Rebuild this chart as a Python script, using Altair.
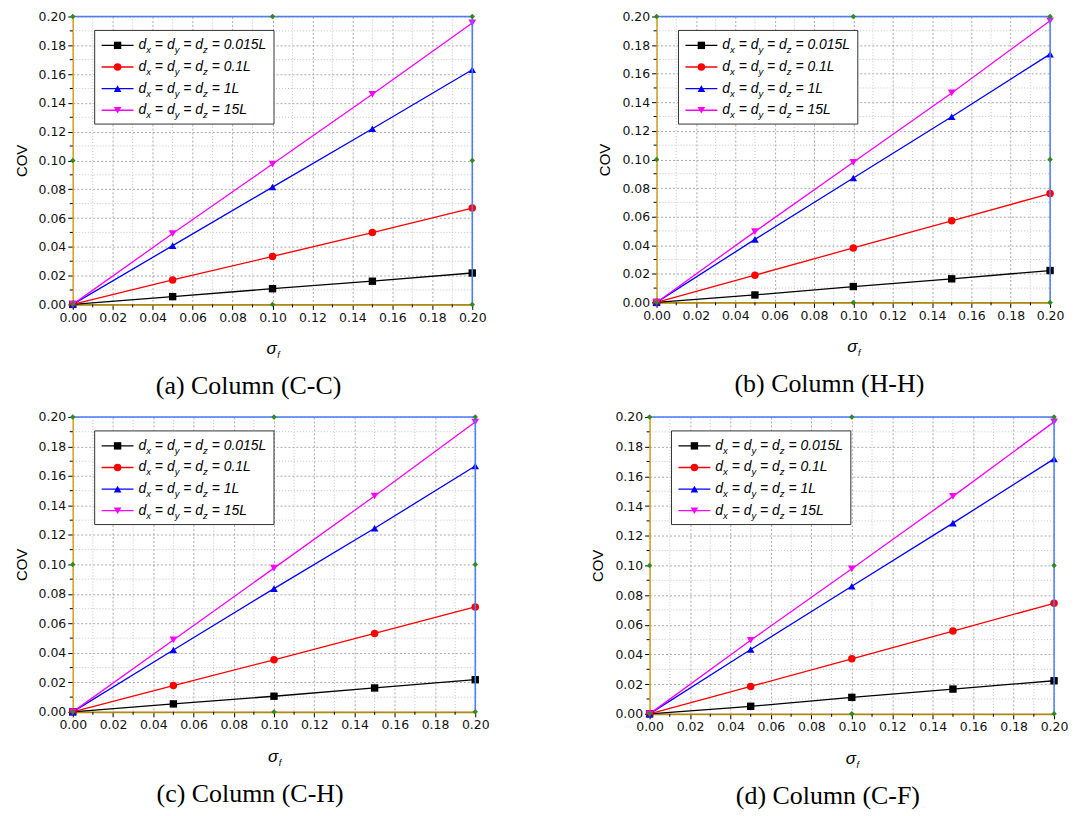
import altair as alt
import pandas as pd

# ---------------- data ----------------
SIGMA = [0.00, 0.05, 0.10, 0.15, 0.20]
SERIES = ["0.015L", "0.1L", "1L", "15L"]
COLORS = ["#000000", "#ff0000", "#0000ff", "#ff00ff"]
SHAPES = ["square", "circle", "triangle-up", "triangle-down"]

A_0015 = [0, 0.0054, 0.0109, 0.0161, 0.0218]
A_01 = [0, 0.0170, 0.0333, 0.0499, 0.0669]
A_1 = [0, 0.0408, 0.0815, 0.1220, 0.1630]
A_15 = [0, 0.0492, 0.0975, 0.1460, 0.1955]

B_0015 = [0, 0.0052, 0.0111, 0.0165, 0.0223]
B_01 = [0, 0.0190, 0.0381, 0.0571, 0.0761]
B_1 = [0, 0.0441, 0.0870, 0.1299, 0.1737]
B_15 = [0, 0.0495, 0.0980, 0.1465, 0.1970]

C_0015 = [0, 0.0054, 0.0106, 0.0162, 0.0218]
C_01 = [0, 0.0178, 0.0353, 0.0532, 0.0712]
C_1 = [0, 0.0420, 0.0836, 0.1245, 0.1667]
C_15 = [0, 0.0488, 0.0975, 0.1464, 0.1966]

D_0015 = [0, 0.0051, 0.0111, 0.0167, 0.0223]
D_01 = [0, 0.0185, 0.0371, 0.0558, 0.0745]
D_1 = [0, 0.0433, 0.0860, 0.1285, 0.1718]
D_15 = [0, 0.0496, 0.0977, 0.1465, 0.1967]

CAPTIONS = ["(a) Column (C-C)", "(b) Column (H-H)", "(c) Column (C-H)", "(d) Column (C-F)"]
PANELS = [
    [A_0015, A_01, A_1, A_15],
    [B_0015, B_01, B_1, B_15],
    [C_0015, C_01, C_1, C_15],
    [D_0015, D_01, D_1, D_15],
]
SIZES = [(401, 289), (395, 287), (404, 296), (406, 298)]

MAJOR = [round(i * 0.02, 2) for i in range(11)]
MINOR = [round(0.01 + i * 0.02, 2) for i in range(10)]
ANCHOR_X = [0.0, 0.1, 0.2, 0.0, 0.2, 0.0, 0.1, 0.2]
ANCHOR_Y = [0.2, 0.2, 0.2, 0.1, 0.1, 0.0, 0.0, 0.0]

# Arial-like advance widths (per 1000 em) for legend layout
AW = {'d': 556, 'x': 500, 'y': 500, 'z': 500, ' ': 278, '=': 584, '0': 556,
      '.': 278, '1': 556, '5': 556, 'L': 556}


def tw(s, fs):
    return sum(AW[c] for c in s) * fs / 1000.0


color_scale = alt.Scale(domain=SERIES, range=COLORS)
shape_scale = alt.Scale(domain=SERIES, range=SHAPES)
XS = alt.Scale(domain=[0, 0.2], nice=False, zero=False)
YS = alt.Scale(domain=[0, 0.2], nice=False, zero=False)


def make_axis(is_x):
    common = dict(
        values=MAJOR,
        format=".2f",
        labelOverlap=False,
        labelFlush=False,
        labelFont="DejaVu Sans",
        labelFontSize=12.5,
        labelColor="#111111",
        labelPadding=2,
        tickColor="#000000",
        tickWidth=1,
        tickSize=5,
        grid=True,
        gridColor="#ababab",
        gridDash=[2, 2],
        gridWidth=1,
        domainWidth=1.6,
    )
    if is_x:
        return alt.Axis(title=None, domainColor="#b08a12", **common)
    return alt.Axis(title="COV", titleFont="Liberation Sans", titleFontSize=15,
                    titleFontWeight="normal", titleColor="#000000", titlePadding=9,
                    domainColor="#d9a62a", **common)


AXX = make_axis(True)
AXY = make_axis(False)


def PX(field):
    return alt.X(field, scale=XS, axis=AXX)


def PY(field):
    return alt.Y(field, scale=YS, axis=AXY)


def make_panel(vals, caption, w, h):
    rows = []
    for s, series_vals in zip(SERIES, vals):
        for x, y in zip(SIGMA, series_vals):
            rows.append({"sigma": x, "cov": y, "series": s})
    df = pd.DataFrame(rows)

    minor_df = pd.DataFrame({"v": MINOR})
    one = pd.DataFrame({"k": [0]})

    # minor grid + ticks
    vgrid = alt.Chart(minor_df).mark_rule(color="#c4c4c4", strokeDash=[1, 2], strokeWidth=1).encode(
        x=PX("v:Q"), y=alt.value(0), y2=alt.value(h))
    hgrid = alt.Chart(minor_df).mark_rule(color="#c4c4c4", strokeDash=[1, 2], strokeWidth=1).encode(
        y=PY("v:Q"), x=alt.value(0), x2=alt.value(w))
    xminor = alt.Chart(minor_df).mark_rule(color="#000000", strokeWidth=1).encode(
        x=PX("v:Q"), y=alt.value(h), y2=alt.value(h + 3))
    yminor = alt.Chart(minor_df).mark_rule(color="#000000", strokeWidth=1).encode(
        y=PY("v:Q"), x=alt.value(0), x2=alt.value(-3))

    size_scale = alt.Scale(domain=SERIES, range=[55, 60, 95, 95])
    lines = alt.Chart(df).mark_line(strokeWidth=1.3).encode(
        x=PX("sigma:Q"), y=PY("cov:Q"),
        color=alt.Color("series:N", scale=color_scale, legend=None),
        detail="series:N",
    )
    points = alt.Chart(df).mark_point(filled=True, opacity=1).encode(
        x=PX("sigma:Q"), y=PY("cov:Q"),
        color=alt.Color("series:N", scale=color_scale, legend=None),
        shape=alt.Shape("series:N", scale=shape_scale, legend=None),
        size=alt.Size("series:N", scale=size_scale, legend=None),
    )

    top_rule = alt.Chart(one).mark_rule(color="#4d7cff", strokeWidth=1.5).encode(
        x=alt.value(0), x2=alt.value(w), y=alt.value(0))
    right_rule = alt.Chart(one).mark_rule(color="#4d7cff", strokeWidth=1.5).encode(
        x=alt.value(w), y=alt.value(0), y2=alt.value(h))

    anchors = alt.Chart(pd.DataFrame({"sigma": ANCHOR_X, "cov": ANCHOR_Y})).mark_point(
        filled=True, shape="diamond", size=30, color="#2e8b1e", opacity=1
    ).encode(x=PX("sigma:Q"), y=PY("cov:Q"))

    # ---- legend (layout in pixels, converted to data units) ----
    bx, by, bw, bh = 22, 14, 180, 94
    box = alt.Chart(one).mark_rect(fill="white", stroke="#333333", strokeWidth=1).encode(
        x=alt.value(bx), x2=alt.value(bx + bw), y=alt.value(by), y2=alt.value(by + bh))

    def dx(px):
        return px / w * 0.2

    def dy(py):
        return 0.2 - py / h * 0.2

    seg_rows, main_rows, sub_rows = [], [], []
    fm, fs = 14, 9.5
    for i, lab in enumerate(SERIES):
        ry = by + 15 + i * 21.7
        seg_rows.append({"x1": dx(bx + 7), "x2": dx(bx + 39), "xm": dx(bx + 23),
                         "yy": dy(ry), "series": lab})
        seq = [("d", "m"), ("x", "s"), (" ", "m"), ("=", "m"), (" ", "m"),
               ("d", "m"), ("y", "s"), (" ", "m"), ("=", "m"), (" ", "m"),
               ("d", "m"), ("z", "s"), (" ", "m"), ("=", "m"), (" ", "m"), (lab, "m")]
        cur = bx + 44
        for tok, kind in seq:
            size = fm if kind == "m" else fs
            if tok.strip():
                rec = {"tx": dx(cur), "ty": dy(ry), "t": tok}
                (main_rows if kind == "m" else sub_rows).append(rec)
            cur += tw(tok, size)
    seg_df = pd.DataFrame(seg_rows)
    leg_lines = alt.Chart(seg_df).mark_rule(strokeWidth=1.3).encode(
        x=PX("x1:Q"), x2="x2:Q", y=PY("yy:Q"),
        color=alt.Color("series:N", scale=color_scale, legend=None))
    leg_pts = alt.Chart(seg_df).mark_point(filled=True, opacity=1).encode(
        x=PX("xm:Q"), y=PY("yy:Q"),
        color=alt.Color("series:N", scale=color_scale, legend=None),
        shape=alt.Shape("series:N", scale=shape_scale, legend=None),
        size=alt.Size("series:N", scale=alt.Scale(domain=SERIES, range=[36, 40, 60, 60]), legend=None))
    leg_main = alt.Chart(pd.DataFrame(main_rows)).mark_text(
        font="Liberation Sans", fontSize=fm, fontStyle="italic", align="left",
        baseline="middle", color="#000000").encode(x=PX("tx:Q"), y=PY("ty:Q"), text="t:N")
    leg_sub = alt.Chart(pd.DataFrame(sub_rows)).mark_text(
        font="Liberation Sans", fontSize=fs, fontStyle="italic", align="left",
        baseline="middle", dy=5, color="#000000").encode(x=PX("tx:Q"), y=PY("ty:Q"), text="t:N")

    # ---- x title (sigma_f) and caption ----
    sig = alt.Chart(one).mark_text(text="σ", font="Liberation Sans", fontSize=17,
                                   fontStyle="italic", align="center", baseline="middle",
                                   color="#000000").encode(x=alt.value(w / 2 - 1), y=alt.value(h + 45))
    sig_sub = alt.Chart(one).mark_text(text="f", font="Liberation Sans", fontSize=9,
                                       fontStyle="italic", align="center", baseline="middle",
                                       color="#000000").encode(x=alt.value(w / 2 + 6), y=alt.value(h + 51))
    cap = alt.Chart(one).mark_text(text=caption, font="Liberation Serif", fontSize=26,
                                   align="center", baseline="middle",
                                   color="#000000").encode(x=alt.value(w / 2 - 24), y=alt.value(h + 82))

    return alt.layer(vgrid, hgrid, xminor, yminor, lines, points, top_rule, right_rule, anchors,
                     box, leg_lines, leg_pts, leg_main, leg_sub, sig, sig_sub, cap
                     ).properties(width=w, height=h)


panels = [make_panel(v, c, w, h) for v, c, (w, h) in zip(PANELS, CAPTIONS, SIZES)]
row1 = alt.hconcat(panels[0], panels[1], spacing=110)
row2 = alt.hconcat(panels[2], panels[3], spacing=100)
chart = alt.vconcat(row1, row2, spacing=10).properties(
    padding={"left": 5, "top": 0, "right": 0, "bottom": 0}
).configure_view(stroke=None).configure(background="white")

chart.save("out.html", embed_options={"renderer": "svg", "actions": False})
